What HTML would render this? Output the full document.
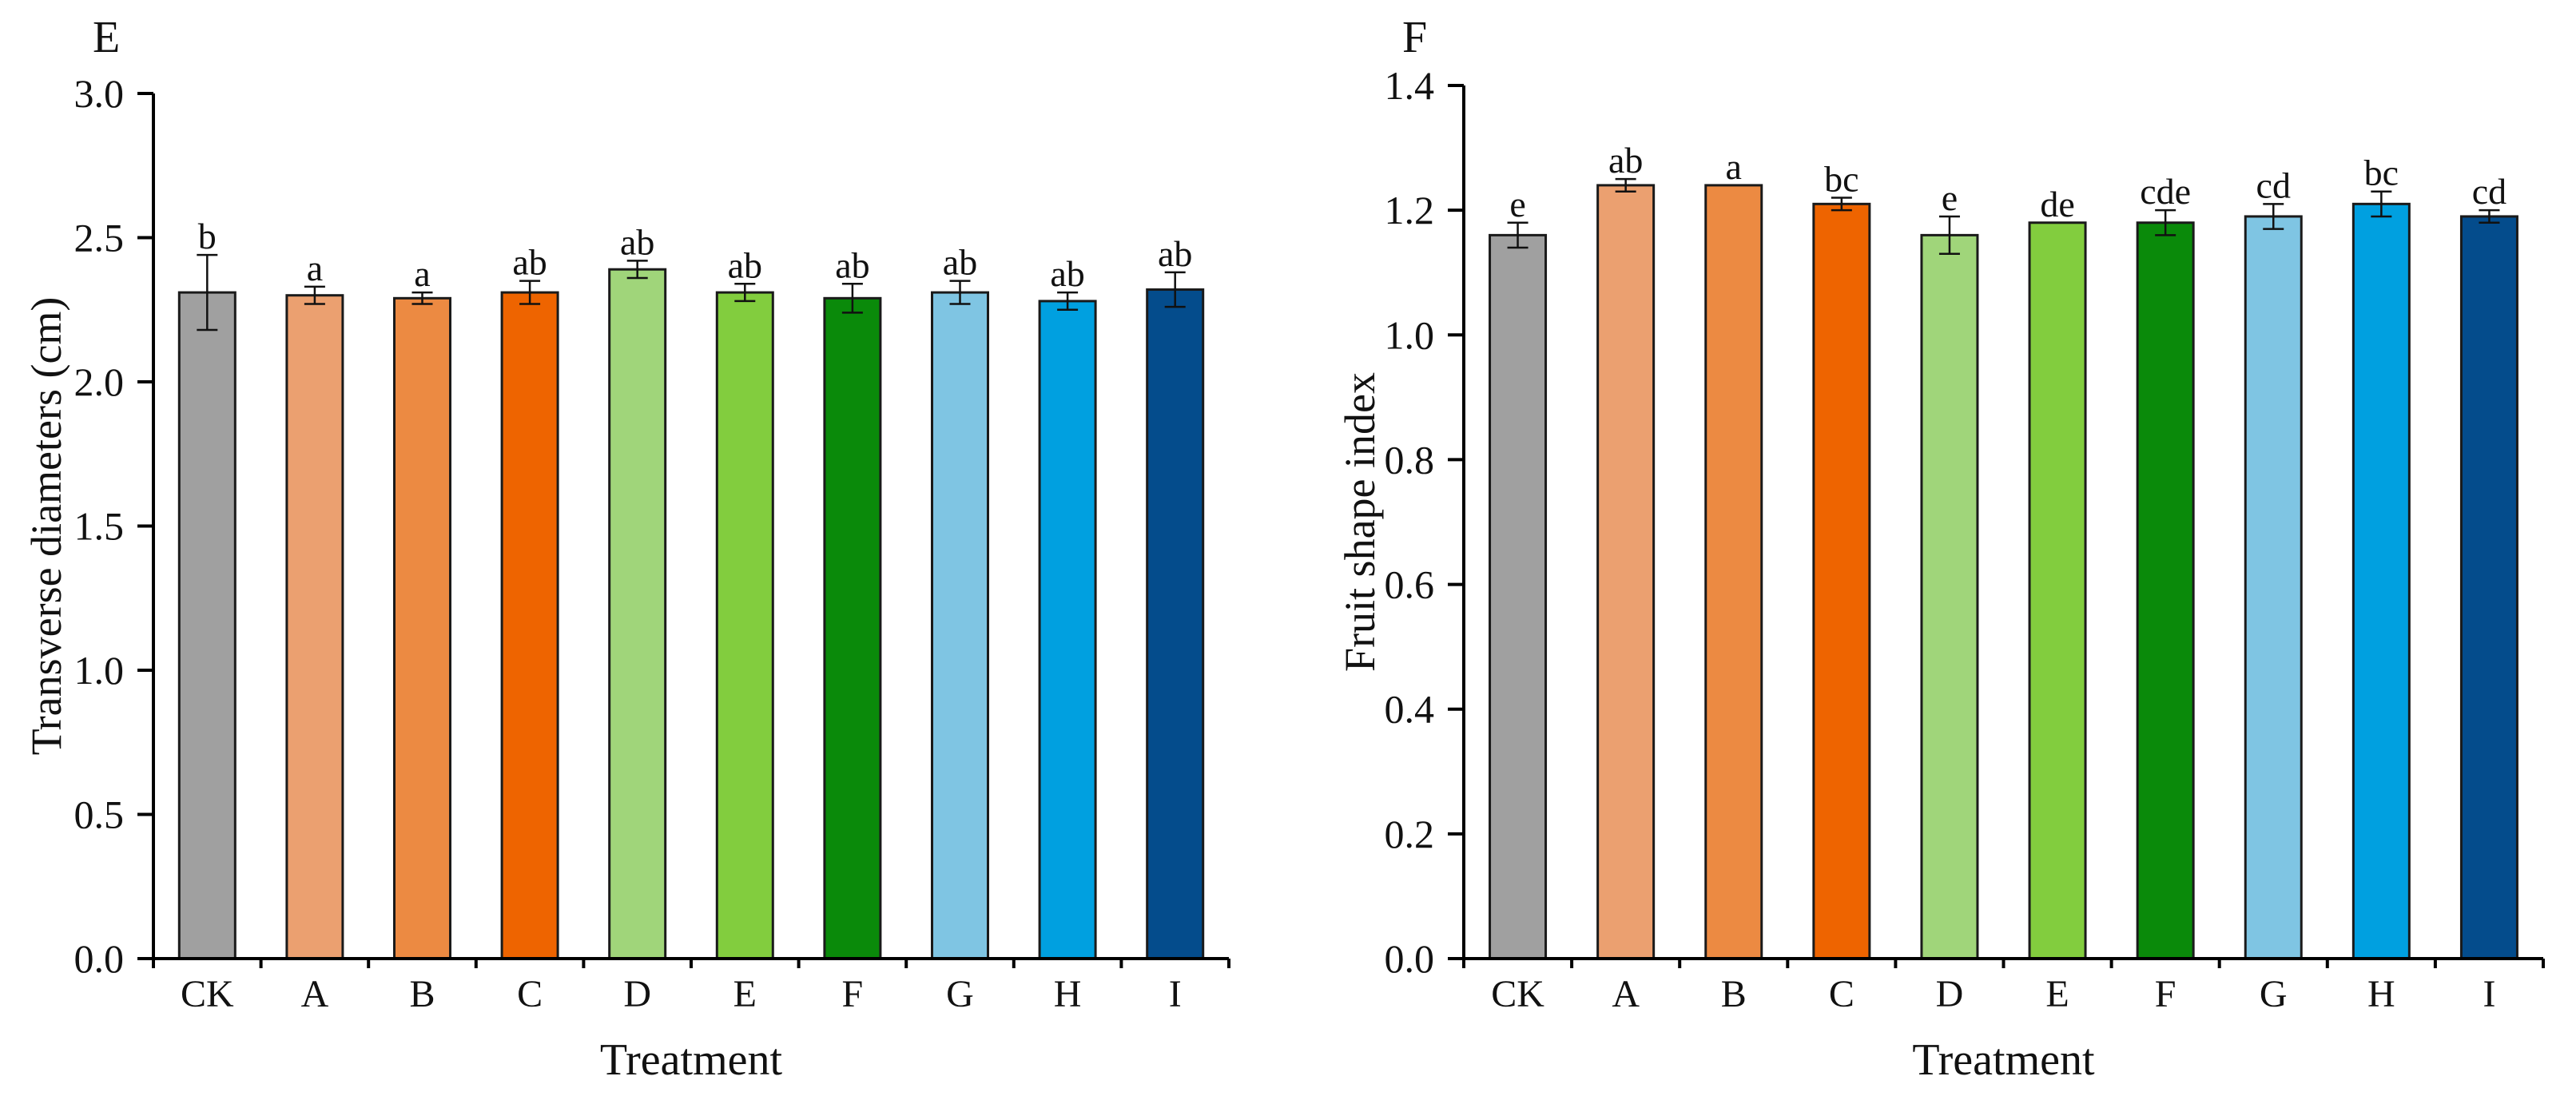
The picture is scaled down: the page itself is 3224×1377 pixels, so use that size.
<!DOCTYPE html>
<html><head><meta charset="utf-8">
<style>html,body{margin:0;padding:0;background:#fff;}svg{display:block;font-family:"Liberation Serif",serif;}</style>
</head><body>
<svg id="fig" width="3224" height="1377" viewBox="0 0 3224 1377" xmlns="http://www.w3.org/2000/svg"></svg>
<script>
const categories = ["CK","A","B","C","D","E","F","G","H","I"];
const colors = ["#a0a0a0","#eba070","#ec8a42","#ee6400","#a0d57a","#82cd3e","#0a8a0a","#7fc5e3","#00a0e0","#044c8c"];
const diamValues = [2.31,2.30,2.29,2.31,2.39,2.31,2.29,2.31,2.28,2.32];
const diamErrors = [0.13,0.03,0.02,0.04,0.03,0.03,0.05,0.04,0.03,0.06];
const diamLetters = ["b","a","a","ab","ab","ab","ab","ab","ab","ab"];
const diamTicks = [0,0.5,1.0,1.5,2.0,2.5,3.0];
const shapeValues = [1.16,1.24,1.24,1.21,1.16,1.18,1.18,1.19,1.21,1.19];
const shapeErrors = [0.02,0.01,0,0.01,0.03,0,0.02,0.02,0.02,0.01];
const shapeLetters = ["e","ab","a","bc","e","de","cde","cd","bc","cd"];
const shapeTicks = [0,0.2,0.4,0.6,0.8,1.0,1.2,1.4];

const NS="http://www.w3.org/2000/svg";
const svg=document.getElementById('fig');
function mk(tag,attrs,parent){const e=document.createElementNS(NS,tag);for(const k in attrs)e.setAttribute(k,attrs[k]);(parent||svg).appendChild(e);return e;}

function drawChart(o){
  const g=mk('g',{});
  
  
  const x0=o.x0,x1=o.x1,yb=o.yb,yt=o.yt,ymax=o.ymax;
  const band=(x1-x0)/categories.length;
  const y=v=>yb-(v/ymax)*(yb-yt);
  const xc=i=>x0+band*(i+0.5);
  const bw=70;
  categories.forEach((c,i)=>{
    const v=o.values[i],e=o.errors[i];
    const r=mk('rect',{x:xc(i)-bw/2,y:y(v),width:bw,height:yb-y(v),fill:colors[i],stroke:'#1a1a1a','stroke-width':3},g);
    
    
    const eg=mk('g',{stroke:'#111','stroke-width':2.5},g);
    
    
    if(e>0){
      mk('line',{x1:xc(i),x2:xc(i),y1:y(v+e),y2:y(v-e)},eg);
      mk('line',{x1:xc(i)-13,x2:xc(i)+13,y1:y(v+e),y2:y(v+e)},eg);
      mk('line',{x1:xc(i)-13,x2:xc(i)+13,y1:y(v-e),y2:y(v-e)},eg);
    }
    const t=mk('text',{x:xc(i),y:y(v+e)-8,'text-anchor':'middle','font-size':46,fill:'#111'},g);
    t.textContent=o.letters[i];
    
    
    const tl=mk('text',{x:xc(i),y:yb+60,'text-anchor':'middle','font-size':48,fill:'#111'},g);
    tl.textContent=c;
    
    
  });
  const ax=mk('path',{d:`M${x0} ${yt} V${yb} H${x1}`,fill:'none',stroke:'#000','stroke-width':4},g);
  
  
  for(let i=0;i<=categories.length;i++){
    mk('line',{x1:x0+band*i,x2:x0+band*i,y1:yb,y2:yb+12,stroke:'#000','stroke-width':4},g);
  }
  o.ticks.forEach(t=>{
    mk('line',{x1:x0-20,x2:x0,y1:y(t),y2:y(t),stroke:'#000','stroke-width':4},g);
    const tt=mk('text',{x:x0-37,y:y(t)+17,'text-anchor':'end','font-size':50,fill:'#111'},g);
    tt.textContent=t.toFixed(1);
    
    
  });
  const yl=mk('text',{transform:`translate(${o.ylx},${(yt+yb)/2}) rotate(-90)`,'text-anchor':'middle','font-size':54,fill:'#111'},g);
  yl.textContent=o.ylabel;
  
  
  const xl=mk('text',{x:(x0+x1)/2,y:1345,'text-anchor':'middle','font-size':56,fill:'#111'},g);
  xl.textContent='Treatment';
  
  
  const pl=mk('text',{x:o.px,y:65,'font-size':56,fill:'#111'},g);
  pl.textContent=o.panel;
  
  
}

drawChart({name:'chart-transverse-diameter',x0:192,x1:1538,yb:1200,yt:117,ymax:3.0,values:diamValues,errors:diamErrors,letters:diamLetters,ticks:diamTicks,ylabel:'Transverse diameters (cm)',ylx:76,panel:'E',px:116});
drawChart({name:'chart-fruit-shape-index',x0:1832,x1:3183,yb:1200,yt:107,ymax:1.4,values:shapeValues,errors:shapeErrors,letters:shapeLetters,ticks:shapeTicks,ylabel:'Fruit shape index',ylx:1720,panel:'F',px:1755});
</script>
</body></html>
